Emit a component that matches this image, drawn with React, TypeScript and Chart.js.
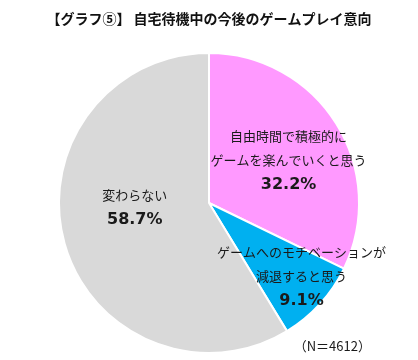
import React, { useEffect, useRef } from "react";
import { Chart, registerables } from "chart.js";

Chart.register(...registerables);

const titleText = "【グラフ⑤】 自宅待機中の今後のゲームプレイ意向";
const categories = [
  ["自由時間で積極的に", "ゲームを楽んでいくと思う"],
  ["ゲームへのモチベーションが", "減退すると思う"],
  ["変わらない"],
];
const values = [32.2, 9.1, 58.7];
const colors = ["#FF99FF", "#00B0F0", "#D9D9D9"];
const labelOffsets = [
  [16, -3],
  [37, 23],
  [-2, -16],
];
const sampleNote = "（N＝4612）";

const FONT = "'Noto Sans CJK JP', 'Noto Sans', sans-serif";
const NUMFONT = "'DejaVu Sans', Verdana, sans-serif";

const labelPlugin = {
  id: "sliceLabels",
  afterDatasetsDraw(chart: any) {
    const ctx = chart.ctx;
    const meta = chart.getDatasetMeta(0);
    ctx.save();
    ctx.textAlign = "center";
    ctx.textBaseline = "middle";
    ctx.fillStyle = "#1a1a1a";
    meta.data.forEach((arc: any, i: number) => {
      const p = arc.getCenterPoint();
      const cx = p.x + labelOffsets[i][0];
      const cy = p.y + labelOffsets[i][1];
      const lines = categories[i];
      const lh = 24.5;
      const total = lines.length + 1;
      const startY = cy - ((total - 1) * lh) / 2;
      ctx.font = `13px ${FONT}`;
      lines.forEach((t, j) => ctx.fillText(t, cx, startY + j * lh));
      ctx.font = `bold 16px ${NUMFONT}`;
      ctx.fillText(values[i].toFixed(1) + "%", cx, startY + lines.length * lh);
    });
    ctx.font = `13px ${FONT}`;
    ctx.textAlign = "center";
    ctx.fillText(sampleNote, chart.width * 0.795, chart.chartArea.bottom - 8);
    ctx.restore();
  },
};

export default function App() {
  const ref = useRef<HTMLCanvasElement | null>(null);
  useEffect(() => {
    if (!ref.current) return;
    const chart = new Chart(ref.current, {
      type: "pie",
      data: {
        labels: categories.map((c) => c.join("")),
        datasets: [
          {
            data: values,
            backgroundColor: colors,
            borderColor: "#ffffff",
            borderWidth: 2,
          },
        ],
      },
      options: {
        animation: false,
        responsive: true,
        maintainAspectRatio: false,
        layout: { padding: { top: 0, bottom: 6, left: 0, right: 0 } },
        plugins: {
          legend: { display: false },
          tooltip: { enabled: false },
          title: {
            display: true,
            text: titleText,
            color: "#111111",
            font: { size: 14, weight: "bold", family: FONT },
            padding: { top: 10.6, bottom: 24.6 },
          },
        },
      },
      plugins: [labelPlugin],
    });
    return () => chart.destroy();
  }, []);
  return (
    <div style={{ position: "fixed", left: 0, top: 0, width: 418, height: 360, background: "#fff" }}>
      <canvas ref={ref} />
    </div>
  );
}
